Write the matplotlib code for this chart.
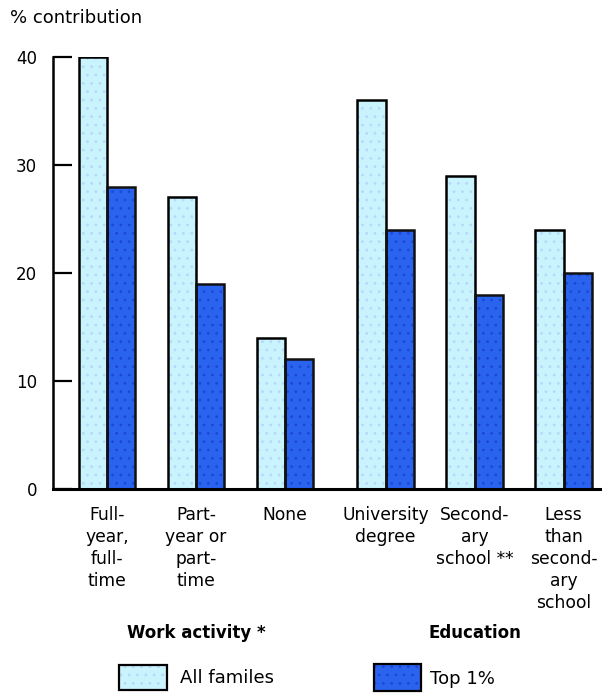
import matplotlib
matplotlib.use("Agg")
import matplotlib.pyplot as plt
from matplotlib.patches import Rectangle

categories = [
    "Full-\nyear,\nfull-\ntime",
    "Part-\nyear or\npart-\ntime",
    "None",
    "University\ndegree",
    "Second-\nary\nschool **",
    "Less\nthan\nsecond-\nary\nschool",
]
all_families = [40, 27, 14, 36, 29, 24]
top_1pct = [28, 19, 12, 24, 18, 20]
group_titles = ["Work activity *", "Education"]
series_names = ["All familes", "Top 1%"]
y_ticks = [0, 10, 20, 30, 40]

LIGHT = "#c9f4fd"
LIGHT_DOT = "#b9d6fb"
DARK = "#2a64ee"
DARK_DOT = "#1c48d8"

plt.rcParams["font.family"] = ["DejaVu Sans"]
plt.rcParams["hatch.linewidth"] = 0.8

fig = plt.figure(figsize=(6.02, 6.96), dpi=100)
ax = fig.add_axes([53 / 602, 1 - 489 / 696, (600 - 53) / 602, (489 - 57) / 696])

# group centres: two clusters with a wider gap between them
centres = [0, 1, 2, 3.13, 4.13, 5.13]
w = 0.32
x_all = [c - w / 2 for c in centres]
x_top = [c + w / 2 for c in centres]

# stippled fill, then a plain outline on top
ax.bar(x_all, all_families, width=w, color=LIGHT, edgecolor=LIGHT_DOT,
       hatch="..", linewidth=0, zorder=2)
ax.bar(x_all, all_families, width=w, fill=False, edgecolor="black",
       linewidth=1.8, zorder=3)
ax.bar(x_top, top_1pct, width=w, color=DARK, edgecolor=DARK_DOT,
       hatch="..", linewidth=0, zorder=2)
ax.bar(x_top, top_1pct, width=w, fill=False, edgecolor="#111111",
       linewidth=1.8, zorder=3)

ax.set_xlim(-0.607, 5.54)
ax.set_ylim(0, 40)
ax.set_yticks(y_ticks)
ax.set_yticklabels([str(v) for v in y_ticks], fontsize=12)
ax.tick_params(axis="y", direction="in", length=14, width=1.6, pad=11.5)
ax.set_xticks([])
for s in ["top", "right"]:
    ax.spines[s].set_visible(False)
ax.spines["left"].set_linewidth(1.8)
ax.spines["bottom"].set_linewidth(2.2)
ax.spines["left"].set_zorder(4)
ax.spines["bottom"].set_zorder(4)

for c, lab in zip(centres, categories):
    ax.annotate(lab, xy=(c, 0), xycoords="data", xytext=(0, -12),
                textcoords="offset points", ha="center", va="top",
                fontsize=12.3, linespacing=1.3)

ax.annotate(group_titles[0], xy=(centres[1], 0), xytext=(0, -97),
            textcoords="offset points", ha="center", va="top",
            fontsize=12, fontweight="bold")
ax.annotate(group_titles[1], xy=(centres[4], 0), xytext=(0, -97),
            textcoords="offset points", ha="center", va="top",
            fontsize=12, fontweight="bold")

fig.text(10 / 602, 1 - 18 / 696, "% contribution", fontsize=13,
         ha="left", va="center")


def swatch(x0, y0, wpx, hpx, face, dot):
    """Legend key drawn in figure pixels (y measured from the top)."""
    box = (x0 / 602, 1 - (y0 + hpx) / 696)
    size = (wpx / 602, hpx / 696)
    fig.patches.append(Rectangle(box, *size, transform=fig.transFigure,
                                 facecolor=face, edgecolor=dot, hatch="..",
                                 linewidth=0))
    fig.patches.append(Rectangle(box, *size, transform=fig.transFigure,
                                 fill=False, edgecolor="black", linewidth=1.6))


swatch(119, 665, 48, 25, LIGHT, LIGHT_DOT)
fig.text(180 / 602, 1 - 678 / 696, series_names[0], fontsize=13,
         ha="left", va="center")
swatch(374, 664, 47, 27, DARK, DARK_DOT)
fig.text(430 / 602, 1 - 679 / 696, series_names[1], fontsize=13,
         ha="left", va="center")

fig.savefig("out.png", dpi=100)
